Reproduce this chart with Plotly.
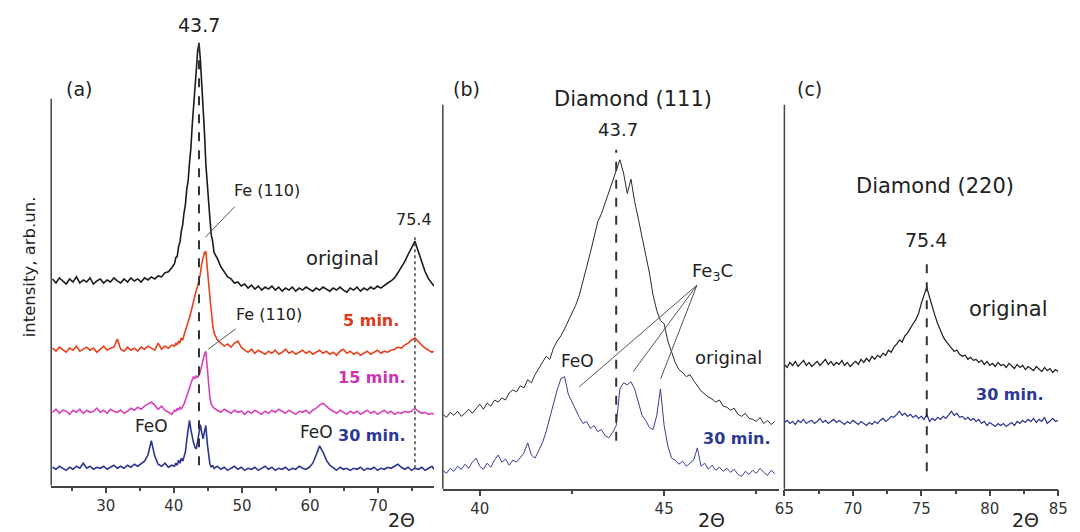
import plotly.graph_objects as go

# ---------------- Panel (a) data ----------------
x_a = [22.2, 22.7, 23.2, 23.7, 24.2, 24.7, 25.2, 25.7, 26.2, 26.7,
       27.2, 27.7, 28.2, 28.7, 29.2, 29.7, 30.2, 30.7, 31.2, 31.7,
       32.2, 32.7, 33.2, 33.7, 34.2, 34.7, 35.2, 35.7, 36.2, 36.7,
       37.2, 37.7, 38.2, 38.7, 39.2, 39.7,
       40.1, 40.3, 40.5, 40.7, 40.9, 41.1, 41.3, 41.5, 41.7, 41.9,
       42.1, 42.3, 42.5, 42.7, 42.9, 43.1, 43.3, 43.5, 43.7, 43.9,
       44.1, 44.3, 44.5, 44.7, 44.9, 45.1, 45.3, 45.5, 45.7, 45.9,
       46.4, 46.9, 47.4, 47.9, 48.4, 48.9, 49.4, 49.9, 50.4, 50.9,
       51.4, 51.9, 52.4, 52.9, 53.4, 53.9, 54.4, 54.9, 55.4, 55.9,
       56.4, 56.9, 57.4, 57.9, 58.4, 58.9, 59.4, 59.9, 60.4, 60.9,
       61.4, 61.9, 62.4, 62.9, 63.4, 63.9, 64.4, 64.9, 65.4, 65.9,
       66.4, 66.9, 67.4, 67.9, 68.4, 68.9, 69.4, 69.9, 70.4, 70.9,
       71.4, 71.9, 72.4, 72.9, 73.4, 73.9, 74.4, 74.9, 75.4, 75.9,
       76.4, 76.9, 77.4, 77.9, 78.2]

y_a_original = [203, 199, 204, 201, 198, 203, 200, 205, 199, 202,
                200, 204, 198, 201, 203, 199, 202, 200, 204, 201,
                199, 203, 200, 204, 201, 203, 200, 204, 202, 205,
                203, 206, 205, 209, 210, 214,
                218, 224, 225, 235, 239, 250, 256, 268, 276, 291,
                299, 317, 331, 354, 370, 394, 408, 427, 435, 418,
                397, 370, 347, 316, 297, 273, 262, 246, 240, 229,
                223, 215, 210, 205, 203, 199, 200, 196, 198, 194,
                197, 193, 196, 192, 195, 193, 196, 192, 195, 191,
                194, 192, 195, 191, 194, 192, 195, 193, 191, 194,
                192, 195, 193, 191, 194, 192, 195, 192, 190, 194,
                192, 195, 191, 194, 192, 195, 193, 196, 194, 197,
                199, 201, 204, 209, 214, 220, 227, 234, 240, 230,
                220, 210, 203, 198, 196]

y_a_5min = [135, 132, 136, 133, 131, 135, 133, 137, 132, 134,
            136, 133, 135, 131, 134, 137, 133, 135, 136, 144,
            134, 132, 136, 133, 135, 132, 136, 134, 137, 135,
            133, 140, 134, 137, 135, 138,
            137, 140, 138, 142, 140, 145, 143, 148, 152, 155,
            160, 165, 170, 176, 182, 188, 192, 196, 202, 208,
            218, 224, 229, 230, 218, 200, 185, 170, 158, 150,
            143, 140, 137, 139, 136, 140, 142, 136, 133, 131,
            134, 130, 133, 131, 129, 132, 130, 133, 129, 131,
            134, 130, 132, 129, 131, 133, 130, 132, 129, 131,
            133, 130, 132, 129, 131, 128, 132, 134, 130, 132,
            129, 131, 128, 130, 132, 129, 131, 133, 130, 132,
            131, 133, 134, 136, 135, 138, 140, 143, 145, 141,
            138, 135, 133, 131, 132]

y_a_15min = [72, 75, 71, 74, 73, 70, 74, 72, 75, 71,
             74, 72, 73, 76, 72, 74, 71, 75, 73, 72,
             74, 71, 73, 76, 74, 77, 75, 78, 80, 82,
             79, 75, 78, 74, 72, 70,
             74, 73, 76, 74, 77, 75, 78, 80, 84, 88,
             94, 98, 101, 104, 107, 105, 108, 106, 109, 112,
             118, 124, 129, 132, 115, 97, 86, 80, 78, 76,
             74, 72, 75, 73, 71, 74, 72, 73, 70, 73,
             71, 74, 72, 70, 73, 71, 74, 72, 75, 73,
             71, 74, 72, 70, 73, 72, 74, 71, 74, 76,
             79, 81, 78, 75, 73, 71, 74, 72, 70, 73,
             71, 73, 70, 72, 74, 71, 73, 70, 72, 74,
             71, 73, 70, 72, 71, 73, 72, 73, 76, 73,
             71, 72, 70, 71, 70]

y_a_30min = [18, 16, 19, 17, 15, 18, 16, 19, 17, 22,
             17, 19, 16, 18, 17, 19, 16, 18, 20, 17,
             19, 17, 20, 18, 21, 19, 22, 24, 30, 44,
             29, 21, 19, 22, 18, 20,
             19, 22, 20, 25, 22, 27, 24, 30, 33, 45,
             58, 64, 55, 48, 42, 38, 36, 44, 52, 60,
             52, 46, 53, 59, 42, 28, 21, 18, 20, 17,
             19, 16, 18, 15, 17, 19, 16, 18, 15, 17,
             16, 18, 15, 17, 19, 16, 18, 15, 17, 16,
             18, 15, 17, 16, 19, 17, 16, 18, 22, 30,
             39, 33, 25, 20, 17, 15, 18, 16, 17, 15,
             17, 16, 18, 15, 17, 16, 18, 15, 17, 16,
             18, 17, 19, 21, 18, 16, 18, 15, 17, 16,
             18, 15, 17, 19, 16]

# ---------------- Panel (b) data ----------------
x_b = [39.0, 39.1, 39.2, 39.3, 39.4, 39.5, 39.6, 39.7, 39.8, 39.9,
       40.0, 40.1, 40.2, 40.3, 40.4, 40.5, 40.6, 40.7, 40.8, 40.9,
       41.0, 41.1, 41.2, 41.3, 41.4, 41.5, 41.6, 41.7, 41.8, 41.9,
       42.0, 42.1, 42.2, 42.3, 42.4, 42.5, 42.6, 42.7, 42.8, 42.9,
       43.0, 43.1, 43.2, 43.3, 43.4, 43.5, 43.6, 43.7, 43.8, 43.9,
       44.0, 44.1, 44.2, 44.3, 44.4, 44.5, 44.6, 44.7, 44.8, 44.9,
       45.0, 45.1, 45.2, 45.3, 45.4, 45.5, 45.6, 45.7, 45.8, 45.9,
       46.0, 46.1, 46.2, 46.3, 46.4, 46.5, 46.6, 46.7, 46.8, 46.9,
       47.0, 47.1, 47.2, 47.3, 47.4, 47.5, 47.6, 47.7, 47.8, 47.9,
       48.0]

y_b_original = [73, 70, 75, 72, 76, 71, 74, 78, 74, 79,
                83, 78, 84, 81, 87, 85, 89, 87, 94, 97,
                95, 101, 99, 107, 104, 112, 118, 124, 130, 127,
                138, 145, 150, 157, 165, 172, 180, 190, 203, 218,
                232, 247, 262, 270, 281, 290, 303, 312, 323, 310,
                290, 304, 282, 265, 248, 228, 212, 190, 175, 165,
                162, 145, 134, 124, 117, 114, 110, 112, 106, 101,
                96, 93, 90, 88, 85, 87, 81, 80, 77, 79,
                73, 71, 74, 69, 68, 66, 70, 64, 67, 63,
                66]

y_b_30min = [18, 15, 20, 17, 22, 19, 24, 20, 26, 30,
             22, 19, 25, 21, 28, 33, 26, 29, 23, 28,
             26, 31, 35, 45, 33, 30, 37, 45, 56, 70,
             85, 97, 108, 110, 93, 85, 78, 70, 64, 66,
             59, 62, 56, 58, 52, 50, 55, 62, 98, 104,
             102, 105, 98, 85, 72, 67, 60, 58, 72, 98,
             62, 42, 30, 28, 24, 27, 22, 25, 28, 40,
             22, 25, 19, 23, 18, 21, 17, 20, 16, 19,
             14, 12, 17, 14, 18, 15, 20, 16, 13, 18,
             15]

# ---------------- Panel (c) data ----------------
x_c = [65.0, 65.2, 65.4, 65.6, 65.8, 66.0, 66.2, 66.4, 66.6, 66.8,
       67.0, 67.2, 67.4, 67.6, 67.8, 68.0, 68.2, 68.4, 68.6, 68.8,
       69.0, 69.2, 69.4, 69.6, 69.8, 70.0, 70.2, 70.4, 70.6, 70.8,
       71.0, 71.2, 71.4, 71.6, 71.8, 72.0, 72.2, 72.4, 72.6, 72.8,
       73.0, 73.2, 73.4, 73.6, 73.8, 74.0, 74.2, 74.4, 74.6, 74.8,
       75.0, 75.2, 75.4, 75.6, 75.8, 76.0, 76.2, 76.4, 76.6, 76.8,
       77.0, 77.2, 77.4, 77.6, 77.8, 78.0, 78.2, 78.4, 78.6, 78.8,
       79.0, 79.2, 79.4, 79.6, 79.8, 80.0, 80.2, 80.4, 80.6, 80.8,
       81.0, 81.2, 81.4, 81.6, 81.8, 82.0, 82.2, 82.4, 82.6, 82.8,
       83.0, 83.2, 83.4, 83.6, 83.8, 84.0, 84.2, 84.4, 84.6, 84.8,
       85.0]

y_c_original = [122, 119, 124, 121, 125, 120, 123, 126, 121, 124,
                120, 123, 125, 121, 124, 127, 122, 125, 121, 124,
                122, 126, 121, 124, 120, 123, 125, 122, 127, 124,
                128, 125, 130, 127, 131, 129, 133, 131, 136, 134,
                139, 142, 146, 144, 150, 153, 158, 162, 166, 172,
                182, 190, 198, 188, 178, 170, 162, 155, 149, 145,
                141, 138, 135, 136, 132, 130, 131, 127, 129, 126,
                127, 124, 126, 122, 125, 121, 123, 120, 124, 121,
                122, 119, 123, 120, 118, 122, 119, 121, 117, 120,
                118, 116, 120, 117, 115, 119, 116, 118, 114, 117,
                115]

y_c_30min = [65, 67, 64, 66, 63, 67, 65, 68, 64, 66,
             67, 64, 66, 69, 65, 67, 64, 66, 68, 65,
             67, 65, 63, 66, 64, 67, 65, 63, 66, 64,
             62, 65, 63, 66, 64, 67, 69, 66, 68, 71,
             70, 73, 76, 72, 74, 71, 73, 70, 72, 69,
             71, 68, 73, 66, 69, 67, 70, 68, 71, 69,
             73, 76, 72, 74, 70, 71, 68, 70, 67, 69,
             66, 68, 64, 66, 62, 65, 63, 61, 64, 62,
             64, 61, 63, 65, 62, 66, 64, 67, 65, 68,
             66, 69, 65, 68, 66, 70, 64, 67, 69, 66,
             67]

# reference positions
peak_111 = 43.7
peak_220 = 75.4

# ---------------- styling ----------------
W, H = 1080, 532
FONT = "DejaVu Sans, Verdana, sans-serif"
AX = "#444444"
C_BLACK = "#1a1a1a"
C_RED = "#e8401c"
C_MAG = "#d641b8"
C_BLUE = "#2a3591"
K = 1.018  # vertical pixel scale


def px(x):
    return x / W


def py(y):
    return 1 - (y * K) / H


fig = go.Figure()

# panel (a)
fig.add_trace(go.Scatter(x=x_a, y=y_a_original, mode="lines", line=dict(color=C_BLACK, width=1.6), xaxis="x", yaxis="y"))
fig.add_trace(go.Scatter(x=x_a, y=y_a_5min, mode="lines", line=dict(color=C_RED, width=1.6), xaxis="x", yaxis="y"))
fig.add_trace(go.Scatter(x=x_a, y=y_a_15min, mode="lines", line=dict(color=C_MAG, width=1.6), xaxis="x", yaxis="y"))
fig.add_trace(go.Scatter(x=x_a, y=y_a_30min, mode="lines", line=dict(color=C_BLUE, width=1.6), xaxis="x", yaxis="y"))
# panel (b)
fig.add_trace(go.Scatter(x=x_b, y=y_b_original, mode="lines", line=dict(color="#2a2a2a", width=1), xaxis="x2", yaxis="y2"))
fig.add_trace(go.Scatter(x=x_b, y=y_b_30min, mode="lines", line=dict(color="#3a3f8f", width=1), xaxis="x2", yaxis="y2"))
# panel (c)
fig.add_trace(go.Scatter(x=x_c, y=y_c_original, mode="lines", line=dict(color=C_BLACK, width=1.2), xaxis="x3", yaxis="y3"))
fig.add_trace(go.Scatter(x=x_c, y=y_c_30min, mode="lines", line=dict(color=C_BLUE, width=1.2), xaxis="x3", yaxis="y3"))

xcommon = dict(showline=True, linecolor=AX, linewidth=1.5, ticks="outside", ticklen=6,
               tickwidth=1.5, tickcolor=AX, showgrid=False, zeroline=False,
               tickfont=dict(family=FONT, size=15, color="#333333"))

TOP = 20 / K
fig.update_layout(
    width=W, height=H, margin=dict(l=0, r=0, t=0, b=0),
    paper_bgcolor="white", plot_bgcolor="white", showlegend=False,
    font=dict(family=FONT, color="#222222"),
    xaxis=dict(domain=[px(42), px(432)], range=[22, 78.2], dtick=10, tick0=0,
               minor=dict(dtick=5, ticks="outside", ticklen=4, tickcolor=AX), anchor="y", **xcommon),
    yaxis=dict(domain=[py(477), py(TOP)], range=[0, 477 - TOP], visible=False, anchor="x"),
    xaxis2=dict(domain=[px(441), px(783)], range=[39, 48.1], dtick=5, tick0=0,
                minor=dict(dtick=2.5, ticks="outside", ticklen=4, tickcolor=AX), anchor="y2", **xcommon),
    yaxis2=dict(domain=[py(480), py(TOP)], range=[0, 480 - TOP], visible=False, anchor="x2"),
    xaxis3=dict(domain=[px(789), px(1068)], range=[65, 85], dtick=5, tick0=0,
                minor=dict(dtick=2.5, ticks="outside", ticklen=4, tickcolor=AX), anchor="y3", **xcommon),
    yaxis3=dict(domain=[py(480), py(TOP)], range=[0, 480 - TOP], visible=False, anchor="x3"),
)

shapes = []
# left axis lines
for xl, yt, yb in [(42, 97, 477), (441, 103, 480), (789, 103, 480)]:
    shapes.append(dict(type="line", xref="paper", yref="paper", x0=px(xl), x1=px(xl), y0=py(yt), y1=py(yb),
                       line=dict(color=AX, width=1.5)))
# reference lines
shapes.append(dict(type="line", xref="x", yref="y", x0=peak_111, x1=peak_111, y0=20, y1=434,
                   line=dict(color="#333333", width=2, dash="dash")))
shapes.append(dict(type="line", xref="x", yref="y", x0=peak_220, x1=peak_220, y0=17, y1=247,
                   line=dict(color="#444444", width=1.5, dash="dot")))
shapes.append(dict(type="line", xref="x2", yref="y2", x0=peak_111, x1=peak_111, y0=47, y1=333,
                   line=dict(color="#333333", width=2, dash="dash")))
shapes.append(dict(type="line", xref="x3", yref="y3", x0=peak_220, x1=peak_220, y0=17, y1=225,
                   line=dict(color="#333333", width=2, dash="dash")))
# pointer lines
for (x0, y0, x1, y1) in [(229, 203, 199, 233), (230, 323, 202, 343),
                         (700, 280, 580, 380), (700, 280, 635, 365), (700, 280, 663, 372)]:
    shapes.append(dict(type="line", xref="paper", yref="paper", x0=px(x0), y0=py(y0), x1=px(x1), y1=py(y1),
                       line=dict(color="#555555", width=1)))
fig.update_layout(shapes=shapes)


def ann(x, y, text, size=15, color="#222222", angle=0):
    fig.add_annotation(x=px(x), y=py(y), xref="paper", yref="paper", text=text, showarrow=False,
                       xanchor="center", yanchor="middle", textangle=angle,
                       font=dict(family=FONT, size=size, color=color))


def ann_bottom(x, text, size=19):
    fig.add_annotation(x=px(x), y=0, xref="paper", yref="paper", text=text, showarrow=False,
                       xanchor="center", yanchor="bottom", borderpad=0,
                       font=dict(family=FONT, size=size, color="#222222"))


ann(193, 25, "43.7", 19)
ann(70, 87, "(a)", 19)
ann(20, 262, "intensity, arb.un.", 16.5, angle=-90)
ann(262, 187, "Fe (110)", 16)
ann(412, 216, "75.4", 16)
ann(339, 254, "original", 19.5)
ann(368, 315, "<b>5 min.</b>", 16, "#e03a1c")
ann(264, 309, "Fe (110)", 16)
ann(368, 371, "<b>15 min.</b>", 16, "#cc34b0")
ann(144, 418, "FeO", 17)
ann(312, 424, "FeO", 17)
ann(368, 428, "<b>30 min.</b>", 16, "#2b3896")
ann_bottom(399, "2Θ")

ann(465, 87, "(b)", 19)
ann(635, 97, "Diamond (111)", 21)
ann(619, 127, "43.7", 18)
ann(716, 267, "Fe<sub>3</sub>C", 18)
ann(578, 355, "FeO", 17)
ann(732, 351, "original", 18)
ann(740, 431, "<b>30 min.</b>", 16, "#2b3896")
ann_bottom(715, "2Θ")

ann(815, 87, "(c)", 19)
ann(942, 183, "Diamond (220)", 21)
ann(933, 236, "75.4", 19)
ann(1017, 304, "original", 21)
ann(1018, 388, "<b>30 min.</b>", 16, "#2b3896")
ann_bottom(1035, "2Θ")

fig.write_html("out.html", config={"displayModeBar": False},
               post_script="document.body.style.margin='0px';document.body.style.overflow='hidden';")
